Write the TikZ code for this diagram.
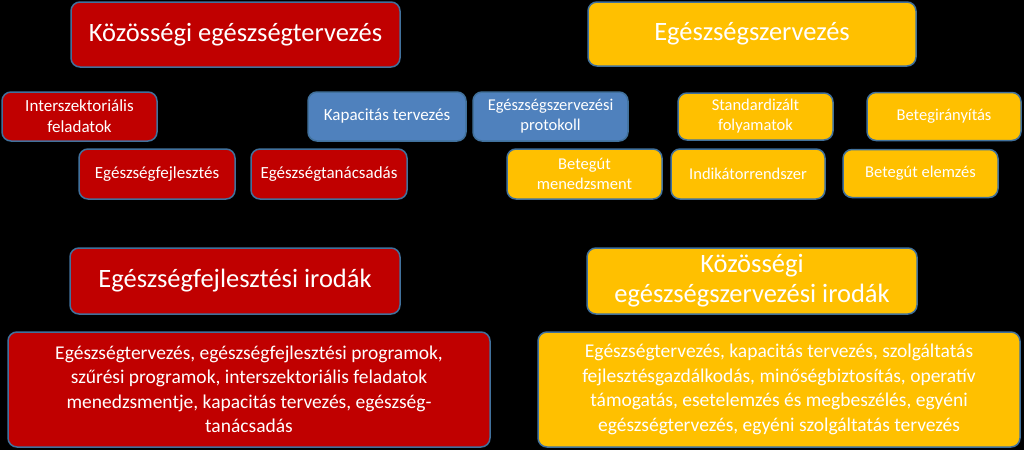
\documentclass[tikz,border=0pt]{standalone}
\usepackage{fontspec}
\setmainfont{Carlito}
\usetikzlibrary{positioning}
\definecolor{boxred}{HTML}{C00000}
\definecolor{boxyellow}{HTML}{FFC000}
\definecolor{boxblue}{HTML}{4F81BD}
\definecolor{boxline}{HTML}{41719C}
\tikzset{
    base box/.style = {
        draw = boxline,
        line width = 1.5pt,
        rounded corners = 9pt,
        text = white,
        align = center,
        inner sep = 2pt,
        },
    red box/.style = {
        base box,
        fill = boxred,
        },
    yellow box/.style = {
        base box,
        fill = boxyellow,
        },
    blue box/.style = {
        base box,
        fill = boxblue,
        },
    size/.style 2 args = {
        minimum width = #1pt,
        minimum height = #2pt,
        },
    head/.style = {
        font = \fontsize{26.5}{30}\selectfont,
        },
    item/.style = {
        font = \fontsize{17}{21}\selectfont,
        },
    item small/.style = {
        font = \fontsize{16.5}{20}\selectfont,
        },
    list/.style = {
        font = \fontsize{19.5}{24.5}\selectfont,
        },
}
\begin{document}
\begin{tikzpicture}[x=1pt, y=-1pt]
    \fill[black] (0,0) rectangle (1024,450);
    \useasboundingbox (0,0) rectangle (1024,450);

    % headings
    \node [red box, head, size={329}{65}] (kozterv) at (235.5,34.5) {Közösségi egészségtervezés};
    \node [yellow box, head, size={328}{64}] (egszerv) at (752,34) {Egészségszervezés};

    % upper row
    \node [red box, item, size={155}{49}] (interszek) at (79.5,116.5) {Interszektoriális\\feladatok};
    \node [blue box, item, size={158}{49}] (kapacitas) at (387,116.5) {Kapacitás tervezés};
    \node [blue box, item small, size={155}{49}] (protokoll) at (550.5,116.5) {Egészségszervezési\\protokoll};
    \node [yellow box, item small, size={155}{47}] (standard) at (755.5,116.5) {Standardizált\\folyamatok};
    \node [yellow box, item small, size={154}{48}] (betegir) at (944,116.5) {Betegirányítás};

    % lower row
    \node [red box, item, size={156}{50}] (egfejl) at (157,174) {Egészségfejlesztés};
    \node [red box, item, size={156}{50}] (tanacs) at (329,174) {Egészségtanácsadás};
    \node [yellow box, item small, size={155}{50}] (betegmen) at (584.5,174) {Betegút\\menedzsment};
    \node [yellow box, item small, size={154}{50}] (indik) at (748,174) {Indikátorrendszer};
    \node [yellow box, item small, size={155}{48}] (betegelem) at (920.5,173.5) {Betegút elemzés};

    % offices
    \node [red box, head, size={330}{66}] (irodak) at (235,281) {Egészségfejlesztési irodák};
    \node [yellow box, head, size={330}{66}] (kozirodak) at (752,281) {Közösségi\\egészségszervezési irodák};

    \node [red box, list, size={482}{115}] (redlist) at (249,389.5)
        {Egészségtervezés, egészségfejlesztési programok,\\
         szűrési programok, interszektoriális feladatok\\
         menedzsmentje, kapacitás tervezés, egészség-\\
         tanácsadás};
    \node [yellow box, list, size={482}{115}] (yellist) at (779,389.5)
        {Egészségtervezés, kapacitás tervezés, szolgáltatás\\
         fejlesztésgazdálkodás, minőségbiztosítás, operatív\\
         támogatás, esetelemzés és megbeszélés, egyéni\\
         egészségtervezés, egyéni szolgáltatás tervezés};
\end{tikzpicture}
\end{document}
